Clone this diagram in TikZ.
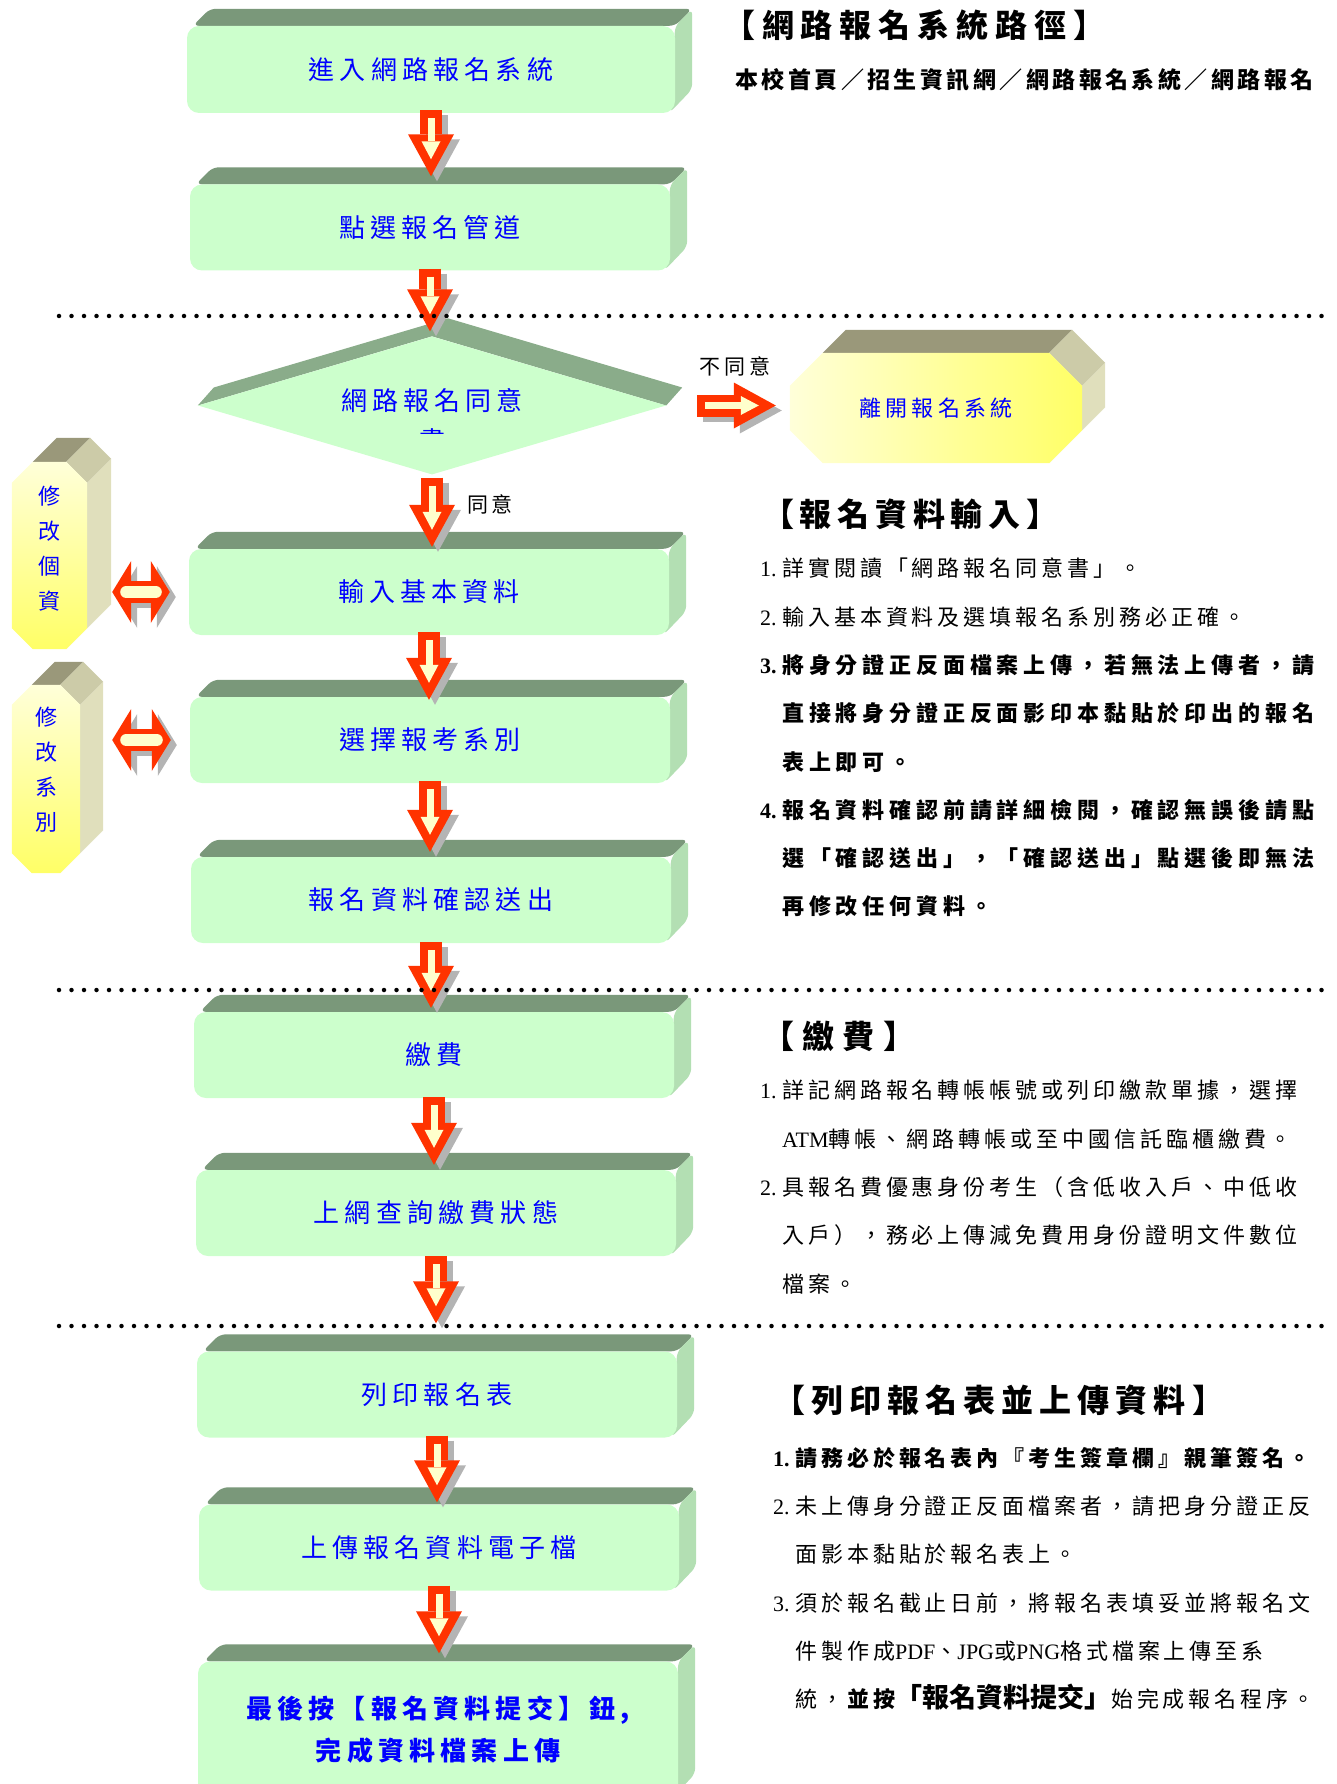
\documentclass[tikz,border=0pt]{standalone}
\usepackage{fontspec}
\setmainfont{Noto Sans CJK TC}
\newfontfamily\kaifont[LetterSpace=20]{Noto Sans CJK TC}
\newfontfamily\mingfont[LetterSpace=18]{Noto Sans CJK TC}
\newfontfamily\numfont{Liberation Serif}
\usetikzlibrary{shapes.geometric, arrows.meta, backgrounds, calc}

\definecolor{boxfront}{HTML}{CCFFCC}
\definecolor{boxtop}{HTML}{7A987A}
\definecolor{boxside}{HTML}{B3DFB3}
\definecolor{difftop}{HTML}{8AAC8A}
\definecolor{arrowred}{HTML}{FF3300}
\definecolor{arrowfill}{HTML}{FFFFCC}
\definecolor{shadowgray}{HTML}{B4B4B4}
\definecolor{textblue}{HTML}{0000FF}
\definecolor{paleyellow}{HTML}{FFFFD9}
\definecolor{deepyellow}{HTML}{FFFF66}
\definecolor{olivetop}{HTML}{9A987A}
\definecolor{oliveside}{HTML}{CCCBA8}
\definecolor{olivepale}{HTML}{E0DFBC}

\tikzstyle{stepbox} = [rectangle, rounded corners=12pt, minimum width=480pt, minimum height=86pt, inner sep=0pt, text centered, fill=boxfront, text=textblue, font=\kaifont\fontsize{26}{30}\selectfont]
\tikzstyle{sidebox} = [rectangle, inner sep=0pt]
\tikzstyle{sidetext} = [inner sep=0pt, align=center, text=textblue, font=\kaifont\fontsize{22}{35}\selectfont]
\tikzstyle{blockarrow} = [line width=22pt, draw=arrowred, -{Triangle[length=42pt,width=46pt,line width=0pt]}]
\tikzstyle{blockcore} = [line width=7pt, draw=arrowfill, shorten <=8pt, shorten >=17pt, -{Triangle[length=18pt,width=19pt,line width=0pt]}]
\tikzstyle{blockshade} = [blockarrow, draw=shadowgray, transform canvas={xshift=6pt,yshift=-5pt}]
\tikzstyle{swaparrow} = [line width=22pt, draw=arrowred, shorten >=19pt, {Triangle[length=19pt,width=62pt,line width=0pt]}-{Triangle[length=19pt,width=62pt,line width=0pt]}]
\tikzstyle{swapcore} = [line width=12pt, draw=arrowfill, line cap=round, shorten <=14pt, shorten >=33pt]
\tikzstyle{swapshade} = [swaparrow, draw=shadowgray, transform canvas={xshift=6pt,yshift=-5pt}]
\tikzstyle{dotline} = [line width=4.5pt, line cap=round, dash pattern=on 0pt off 12.5pt]
\tikzstyle{heading} = [anchor=west, inner sep=0pt, font=\mingfont\bfseries\fontsize{32}{36}\selectfont]
\tikzstyle{note} = [anchor=north west, inner sep=0pt, align=left, font=\mingfont\fontsize{22}{48.3}\selectfont]
\tikzstyle{branch} = [inner sep=0pt, font=\mingfont\fontsize{21}{24}\selectfont]

\newcommand{\blockflow}[2]{%
  \draw[blockshade] (#1) -- (#2);
  \draw[blockarrow] (#1) -- (#2);
  \draw[blockcore] (#1) -- (#2);
}
\newcommand{\downflow}[4]{%
  \coordinate (flowtop) at ($(#1.south)+(0pt,#3)$);
  \coordinate (flowtip) at ($(flowtop |- #2.north)+(0pt,#4)$);
  \blockflow{flowtop}{flowtip}
}
\newcommand{\swapflow}[2]{%
  \draw[swapshade] (#1) -- (#2);
  \draw[swaparrow] (#1) -- (#2);
  \draw[swapcore] (#1) -- (#2);
}
\newcommand{\itemno}[1]{\makebox[22pt][l]{\numfont #1.}}
\newcommand{\boldline}[1]{\textbf{\addfontfeature{LetterSpace=22}#1}}

\begin{document}
\begin{tikzpicture}[x=1pt, y=-1pt, node distance=158pt]
\useasboundingbox (0,0) rectangle (1336,1784);

% main flow
\node (enter) [stepbox, minimum width=488pt, minimum height=87pt] at (431,69.5) {進入網路報名系統};
\node (channel) [stepbox, below of=enter, xshift=-1pt] {點選報名管道};
\node (agree) [diamond, fill=boxfront, minimum width=468pt, minimum height=138pt, inner sep=0pt, below of=channel, xshift=2pt, yshift=-20pt] {};
\node (basic) [stepbox, below of=agree, xshift=-3pt, yshift=-28.5pt] {輸入基本資料};
\node (dept) [stepbox, below of=basic, xshift=1pt, yshift=10pt] {選擇報考系別};
\node (confirm) [stepbox, below of=dept, xshift=1pt, yshift=-2pt] {報名資料確認送出};
\node (pay) [stepbox, below of=confirm, xshift=3pt, yshift=3pt] {繳費};
\node (query) [stepbox, below of=pay, xshift=2pt] {上網查詢繳費狀態};
\node (print) [stepbox, below of=query, xshift=1pt, yshift=-23.5pt] {列印報名表};
\node (upload) [stepbox, below of=print, xshift=2pt, yshift=5pt] {上傳報名資料電子檔};
\node (submit) [stepbox, below of=upload, xshift=-1pt, yshift=-24pt, minimum height=136pt, align=center, font=\kaifont\bfseries\fontsize{26}{42}\selectfont] {最後按【報名資料提交】鈕,\\完成資料檔案上傳};

% side boxes
\node (editinfo) [sidebox, minimum width=75pt, minimum height=187pt] at (49.5,555.5) {};
\node (editdept) [sidebox, minimum width=68pt, minimum height=188pt] at (46,779) {};
\node (editinfotext) [sidetext] at ([yshift=7pt]editinfo.center) {修\\改\\個\\資};
\node (editdepttext) [sidetext] at ([yshift=9pt]editdept.center) {修\\改\\系\\別};
\node (exit) [sidebox, minimum width=292pt, minimum height=110pt, text=textblue, font=\kaifont\fontsize{22}{26}\selectfont] at (936,408) {離開報名系統};

\begin{scope}
\clip ([yshift=80pt]agree.west) rectangle ([yshift=-28pt]agree.east);
\node (agreetext) [text=textblue, align=center, font=\kaifont\fontsize{26}{40}\selectfont] at ([yshift=-15pt]agree.center) {網路報名同意\\書};
\end{scope}

% 3D faces
\begin{scope}[on background layer]
\foreach \bx in {enter,channel,basic,dept,confirm,pay,query,print,upload,submit}{
  \fill[boxtop, rounded corners=6pt] ([xshift=6pt]\bx.north west) -- ([xshift=23pt,yshift=17pt]\bx.north west) -- ([xshift=17pt,yshift=17pt]\bx.north east) -- (\bx.north east) -- cycle;
  \fill[boxside, rounded corners=6pt] (\bx.north east) -- ([xshift=17pt,yshift=17pt]\bx.north east) -- ([xshift=17pt,yshift=24pt]\bx.south east) -- ([xshift=-6pt]\bx.south east) -- cycle;
}
\fill[difftop] (agree.west) -- ([xshift=16pt,yshift=18pt]agree.west) -- ([xshift=16pt,yshift=18pt]agree.north) -- ([xshift=16pt,yshift=18pt]agree.east) -- (agree.east) -- (agree.north) -- cycle;
\foreach \bx/\c/\d/\a in {editinfo/21/24/0, editdept/20/23/0, exit/33/23/90}{
  \fill[olivetop] ([xshift=\c]\bx.north west) -- ([xshift=-\c]\bx.north east) -- ([xshift=-\c+\d,yshift=\d]\bx.north east) -- ([xshift=\c+\d,yshift=\d]\bx.north west) -- cycle;
  \fill[oliveside] ([xshift=-\c]\bx.north east) -- ([yshift=-\c]\bx.north east) -- ([xshift=\d,yshift=-\c+\d]\bx.north east) -- ([xshift=-\c+\d,yshift=\d]\bx.north east) -- cycle;
  \fill[olivepale] ([yshift=-\c]\bx.north east) -- ([yshift=\c]\bx.south east) -- ([xshift=\d,yshift=\c+\d]\bx.south east) -- ([xshift=\d,yshift=-\c+\d]\bx.north east) -- cycle;
  \fill[olivepale] ([yshift=\c]\bx.south east) -- ([xshift=-\c]\bx.south east) -- ([xshift=-\c+\d,yshift=\d]\bx.south east) -- ([xshift=\d,yshift=\c+\d]\bx.south east) -- cycle;
  \shade[top color=paleyellow, bottom color=deepyellow, shading angle=\a] ([xshift=\c]\bx.north west) -- ([xshift=-\c]\bx.north east) -- ([yshift=-\c]\bx.north east) -- ([yshift=\c]\bx.south east) -- ([xshift=-\c]\bx.south east) -- ([xshift=\c]\bx.south west) -- ([yshift=\c]\bx.south west) -- ([yshift=-\c]\bx.north west) -- cycle;
}
\end{scope}

% arrows
\downflow{enter}{channel}{3pt}{8pt}
\downflow{channel}{agree}{2pt}{5pt}
\downflow{agree}{basic}{-3pt}{2pt}
\downflow{basic}{dept}{3pt}{-3pt}
\downflow{dept}{confirm}{2pt}{5pt}
\downflow{confirm}{pay}{1pt}{4pt}
\downflow{pay}{query}{1pt}{5pt}
\downflow{query}{print}{0pt}{28pt}
\downflow{print}{upload}{2pt}{2pt}
\downflow{upload}{submit}{5pt}{8pt}

\coordinate (nostart) at ($(agree.east)+(31pt,0pt)$);
\coordinate (noend) at ($(agree.east -| exit.west)+(-14pt,0pt)$);
\blockflow{nostart}{noend}
\node (refuse) [branch] at (735,366) {不同意};
\node (consent) [branch] at (490,504) {同意};

\coordinate (swapinfo) at ($(editinfo.east |- basic.west)+(25pt,0pt)$);
\swapflow{swapinfo}{basic.west}
\coordinate (swapdept) at ($(editdept.east |- dept.west)+(32pt,0pt)$);
\swapflow{swapdept}{dept.west}

% notes on the right
\node (pathtitle) [heading] at (723,25) {\addfontfeature{LetterSpace=21.5}【網路報名系統路徑】};
\node (pathline) [heading, font=\mingfont\bfseries\fontsize{23}{28}\selectfont] at (735,80) {\addfontfeature{LetterSpace=15}本校首頁／招生資訊網／網路報名系統／網路報名};

\node (inputtitle) [heading] at (762,514) {\addfontfeature{LetterSpace=18}【報名資料輸入】};
\node (inputnotes) [note] at (760,558) {%
\itemno{1}詳實閱讀「網路報名同意書」。\\
\itemno{2}輸入基本資料及選填報名系別務必正確。\\
\boldline{\itemno{3}將身分證正反面檔案上傳，若無法上傳者，請}\\
\hspace*{22pt}\boldline{直接將身分證正反面影印本黏貼於印出的報名}\\
\hspace*{22pt}\boldline{表上即可。}\\
\boldline{\itemno{4}報名資料確認前請詳細檢閱，確認無誤後請點}\\
\hspace*{22pt}\boldline{選「確認送出」，「確認送出」點選後即無法}\\
\hspace*{22pt}\boldline{再修改任何資料。}};

\node (paytitle) [heading] at (762,1036) {\addfontfeature{LetterSpace=26}【繳費】};
\node (paynotes) [note] at (760,1080) {%
\itemno{1}詳記網路報名轉帳帳號或列印繳款單據，選擇\\
\hspace*{22pt}{\numfont ATM}轉帳、網路轉帳或至中國信託臨櫃繳費。\\
\itemno{2}具報名費優惠身份考生（含低收入戶、中低收\\
\hspace*{22pt}入戶），務必上傳減免費用身份證明文件數位\\
\hspace*{22pt}檔案。};

\node (printtitle) [heading] at (773,1400) {\addfontfeature{LetterSpace=19}【列印報名表並上傳資料】};
\node (printnotes) [note] at (773,1447) {%
\textbf{\itemno{1}請務必於報名表內『考生簽章欄』親筆簽名。}\\
\itemno{2}未上傳身分證正反面檔案者，請把身分證正反\\
\hspace*{22pt}面影本黏貼於報名表上。\\
\itemno{3}須於報名截止日前，將報名表填妥並將報名文\\
\hspace*{22pt}件製作成{\numfont PDF}、{\numfont JPG}或{\numfont PNG}格式檔案上傳至系\\
\hspace*{22pt}統，\textbf{並按{\fontsize{27}{48.3}\selectfont\addfontfeature{LetterSpace=0}「報名資料提交」}}始完成報名程序。};

% section rules
\draw[dotline] (59,316) -- (1332,316);
\draw[dotline] (59,990) -- (1332,990);
\draw[dotline] (59,1326) -- (1332,1326);

\end{tikzpicture}
\end{document}
